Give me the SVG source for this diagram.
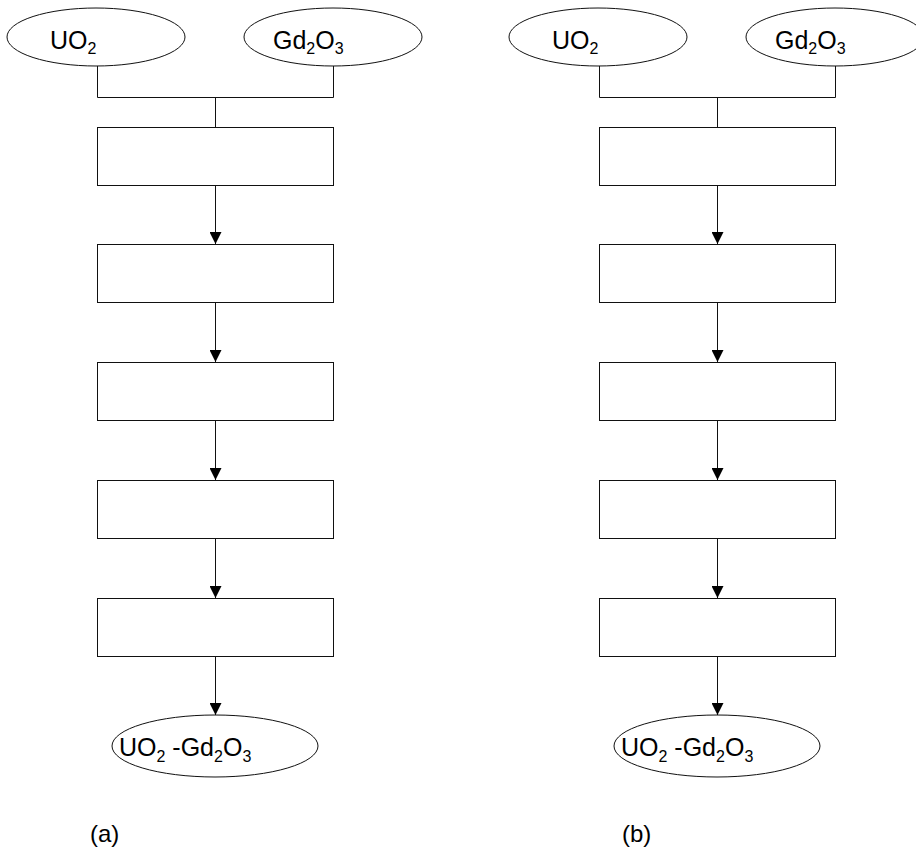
<svg xmlns="http://www.w3.org/2000/svg" width="916" height="854" viewBox="0 0 916 854">
<style>
.s{fill:#fff;stroke:#111;stroke-width:1}
.c{fill:none;stroke:#111;stroke-width:1}
.t{font-family:"Liberation Sans",Arial,sans-serif;font-size:25px;fill:#000}
.sub{font-size:16px}
.lab{font-size:24px}
</style>
<defs>
<marker id="ah" markerUnits="userSpaceOnUse" markerWidth="12" markerHeight="12" refX="12" refY="6" orient="auto">
<path d="M0,0 L12,6 L0,12 Z" fill="#000"/>
</marker>
<g id="panel">
<g class="conns">
<path class="c" d="M97.5,66 V97.5 H333.5 V66 M215.5,97.5 V127"/>
<line class="c" x1="215.5" y1="185" x2="215.5" y2="244" marker-end="url(#ah)"/>
<line class="c" x1="215.5" y1="302" x2="215.5" y2="362" marker-end="url(#ah)"/>
<line class="c" x1="215.5" y1="420" x2="215.5" y2="480" marker-end="url(#ah)"/>
<line class="c" x1="215.5" y1="538" x2="215.5" y2="598" marker-end="url(#ah)"/>
<line class="c" x1="215.5" y1="656" x2="215.5" y2="715" marker-end="url(#ah)"/>
</g>
<g class="n-uo2"><ellipse class="s" cx="96" cy="37" rx="89" ry="29"/><text class="t" x="50" y="49">UO<tspan class="sub" dy="5">2</tspan></text></g>
<g class="n-gd"><ellipse class="s" cx="333" cy="37" rx="89" ry="29"/><text class="t" x="273" y="49">Gd<tspan class="sub" dy="5">2</tspan><tspan dy="-5">O</tspan><tspan class="sub" dy="5">3</tspan></text></g>
<rect class="s" x="97.5" y="127.5" width="236" height="58"/>
<rect class="s" x="97.5" y="244.5" width="236" height="58"/>
<rect class="s" x="97.5" y="362.5" width="236" height="58"/>
<rect class="s" x="97.5" y="480.5" width="236" height="58"/>
<rect class="s" x="97.5" y="598.5" width="236" height="58"/>
<g class="n-out"><ellipse class="s" cx="215" cy="746" rx="103" ry="31"/><text class="t" x="119" y="756">UO<tspan class="sub" dy="6">2</tspan><tspan dy="-6"> -Gd</tspan><tspan class="sub" dy="6">2</tspan><tspan dy="-6">O</tspan><tspan class="sub" dy="6">3</tspan></text></g>
</g>
</defs>
<g id="panel-a"><use href="#panel"/></g>
<g id="panel-b"><use href="#panel" x="502"/></g>
<g id="label-a"><text class="t lab" x="90" y="842">(a)</text></g>
<g id="label-b"><text class="t lab" x="622" y="842">(b)</text></g>
</svg>
